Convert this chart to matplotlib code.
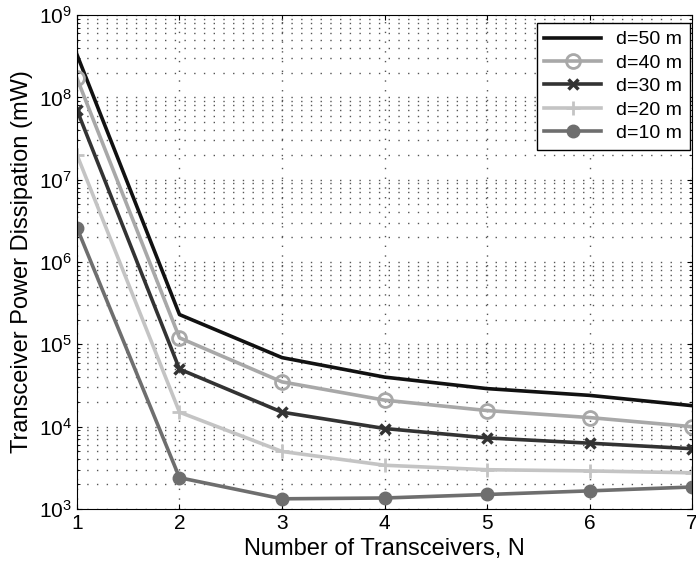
import matplotlib.pyplot as plt
import matplotlib.ticker as mticker
import numpy as np

plt.rcParams['font.family'] = ['Liberation Sans', 'DejaVu Sans']

N = np.array([1, 2, 3, 4, 5, 6, 7])
p50 = np.array([3.3e8, 2.3e5, 6.9e4, 4.0e4, 2.9e4, 2.4e4, 1.8e4])
p40 = np.array([1.7e8, 1.2e5, 3.5e4, 2.1e4, 1.57e4, 1.29e4, 1.0e4])
p30 = np.array([7.0e7, 5.0e4, 1.5e4, 9.5e3, 7.3e3, 6.3e3, 5.4e3])
p20 = np.array([2.0e7, 1.5e4, 5.0e3, 3.4e3, 3.0e3, 2.9e3, 2.75e3])
p10 = np.array([2.6e6, 2.4e3, 1.33e3, 1.36e3, 1.5e3, 1.66e3, 1.85e3])
labels = ["d=50 m", "d=40 m", "d=30 m", "d=20 m", "d=10 m"]

fig = plt.figure(figsize=(6.96, 5.67), dpi=100)
ax = fig.add_axes([0.1106, 0.1023, 0.8837, 0.8712])

lw = 2.6
ax.plot(N, p50, color="#111111", lw=lw, label=labels[0])
ax.plot(N, p40, color="#a8a8a8", lw=lw, marker="o", ms=10, mfc="none",
        mew=2, label=labels[1])
ax.plot(N, p30, color="#333333", lw=lw, marker="x", ms=7, mew=2.5,
        label=labels[2])
ax.plot(N, p20, color="#c4c4c4", lw=lw, marker="+", ms=10, mew=2,
        label=labels[3])
ax.plot(N, p10, color="#6e6e6e", lw=lw, marker="o", ms=9, label=labels[4])

ax.set_yscale("log")
ax.set_xlim(1, 7)
ax.set_ylim(1e3, 1e9)
ax.set_xticks(N)
ax.yaxis.set_minor_formatter(mticker.NullFormatter())
dots = (0, (1, 6))
ax.grid(True, which="major", ls=dots, color="#555555", lw=1.0)
ax.grid(True, which="minor", axis="y", ls=dots, color="#555555", lw=1.0)
ax.tick_params(which="both", direction="in", top=True, right=True,
               labelsize=15)
ax.set_xlabel("Number of Transceivers, N", fontsize=17)
ax.set_ylabel("Transceiver Power Dissipation (mW)", fontsize=17)

leg = ax.legend(loc="upper right", bbox_to_anchor=(0.997, 0.984),
                fontsize=14, fancybox=False, edgecolor="black",
                framealpha=1, handlelength=2.9, borderaxespad=0,
                labelspacing=0.3)
leg.get_frame().set_linewidth(1.0)

fig.savefig("out.png", dpi=100)
